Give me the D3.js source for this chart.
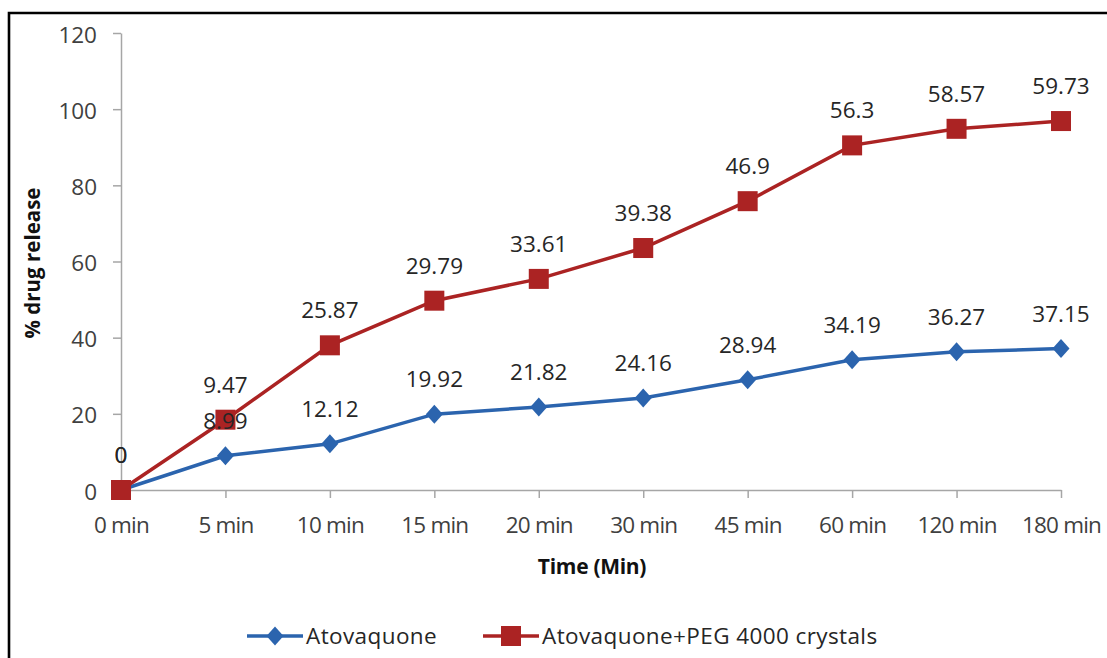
<!DOCTYPE html>
<html>
<head>
<meta charset="utf-8">
<script src="https://cdn.jsdelivr.net/npm/d3@7"></script>
<style>
  html, body { margin: 0; padding: 0; background: #fff; }
  svg { display: block; font-family: "Open Sans", sans-serif; }
</style>
</head>
<body>
<div id="chart"></div>
<script>
const CATEGORIES = ["0 min", "5 min", "10 min", "15 min", "20 min", "30 min", "45 min", "60 min", "120 min", "180 min"];
const ATOVAQUONE = [0, 8.99, 12.12, 19.92, 21.82, 24.16, 28.94, 34.19, 36.27, 37.15];
const ATOVAQUONE_PEG = [0, 9.47, 25.87, 29.79, 33.61, 39.38, 46.9, 56.3, 58.57, 59.73];
const Y_TICKS = [0, 20, 40, 60, 80, 100, 120];

const SERIES = [
  { key: "a", name: "Atovaquone", values: ATOVAQUONE, color: "#2b64ae", marker: "diamond" },
  { key: "b", name: "Atovaquone+PEG 4000 crystals", values: ATOVAQUONE_PEG, color: "#ab2323", marker: "square" }
];

const W = 1107, H = 658;
const pad = { t: 33, l: 121, r: 46, b: 168 };
const iW = W - pad.l - pad.r;
const iH = H - pad.t - pad.b;

const svg = d3.select("#chart").append("svg").attr("width", W).attr("height", H);

// outer frame (left and top edges only visible)
svg.append("path")
  .attr("d", "M9,658 V13 H1107")
  .attr("fill", "none").attr("stroke", "#000").attr("stroke-width", 2.6);

const g = svg.append("g").attr("transform", `translate(${pad.l},${pad.t})`);

// stacked line chart, as in the original
const rows = CATEGORIES.map((c, i) => ({ cat: c, a: ATOVAQUONE[i], b: ATOVAQUONE_PEG[i] }));
const stacked = d3.stack().keys(SERIES.map(s => s.key))(rows);

const x = d3.scalePoint().domain(CATEGORIES).range([0, iW]);
const y = d3.scaleLinear().domain([0, 120]).range([iH, 0]);

const xAxisG = g.append("g").attr("transform", `translate(0,${iH})`)
  .call(d3.axisBottom(x).tickSize(8).tickSizeOuter(0));
const yAxisG = g.append("g")
  .call(d3.axisLeft(y).tickValues(Y_TICKS).tickSize(8).tickSizeOuter(0).tickPadding(16));

[xAxisG, yAxisG].forEach(a => {
  a.select(".domain").attr("stroke", "#a6a6a6").attr("stroke-width", 1.5);
  a.selectAll(".tick line").attr("stroke", "#a6a6a6").attr("stroke-width", 1.5);
  a.selectAll("text").attr("fill", "#404040").attr("font-size", 22.5).attr("font-family", "Open Sans, sans-serif");
});
xAxisG.selectAll("text").attr("y", 43).attr("dy", null).attr("letter-spacing", -0.8);
yAxisG.selectAll("text").attr("dy", "0.4em");

// axis titles
g.append("text")
  .attr("transform", `translate(${33 - pad.l},${263 - pad.t}) rotate(-90)`)
  .attr("text-anchor", "middle").attr("dy", "0.35em")
  .attr("font-weight", "bold").attr("font-size", 20.5).attr("fill", "#111")
  .text("% drug release");
g.append("text")
  .attr("x", 592 - pad.l).attr("y", 574 - pad.t)
  .attr("text-anchor", "middle")
  .attr("font-weight", "bold").attr("font-size", 21).attr("fill", "#111")
  .attr("letter-spacing", -0.3)
  .text("Time (Min)");

const line = d3.line().x(d => x(d.data.cat)).y(d => y(d[1]));
const diamondPath = "M0,-9.5L8.5,0L0,9.5L-8.5,0Z";

SERIES.forEach((s, si) => {
  const pts = stacked[si];
  g.append("path").datum(pts)
    .attr("fill", "none").attr("stroke", s.color).attr("stroke-width", 3.5)
    .attr("d", line);

  const mk = g.append("g").selectAll("g").data(pts).join("g")
    .attr("transform", d => `translate(${x(d.data.cat)},${y(d[1])})`);
  if (s.marker === "diamond") {
    mk.append("path").attr("d", diamondPath).attr("fill", s.color);
  } else {
    mk.append("rect").attr("x", -10).attr("y", -10).attr("width", 20).attr("height", 20).attr("fill", s.color);
  }
});

// data labels on top of all markers
SERIES.forEach((s, si) => {
  g.append("g").selectAll("text").data(stacked[si]).join("text")
    .attr("x", d => x(d.data.cat))
    .attr("y", d => y(d[1]) - 27)
    .attr("text-anchor", "middle")
    .attr("font-size", 22.5).attr("fill", "#262626")
    .text((d, i) => s.values[i]);
});

// legend
const legend = svg.append("g").attr("transform", "translate(0,636)");
const legendX = [247, 483];
SERIES.forEach((s, i) => {
  const lg = legend.append("g").attr("transform", `translate(${legendX[i]},0)`);
  lg.append("line").attr("x1", 0).attr("x2", 56).attr("stroke", s.color).attr("stroke-width", 3.5);
  if (s.marker === "diamond") {
    lg.append("path").attr("transform", "translate(28,0)").attr("d", diamondPath).attr("fill", s.color);
  } else {
    lg.append("rect").attr("x", 18).attr("y", -10).attr("width", 20).attr("height", 20).attr("fill", s.color);
  }
  lg.append("text").attr("x", 59).attr("dy", "0.35em")
    .attr("font-size", 22.5).attr("fill", "#262626").attr("letter-spacing", 0.4)
    .text(s.name);
});
</script>
</body>
</html>
